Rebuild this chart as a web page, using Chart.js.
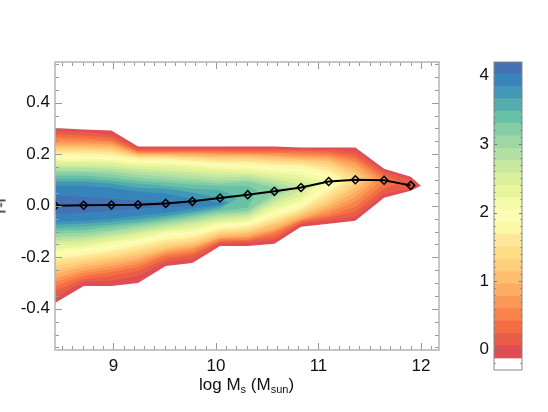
<!DOCTYPE html>
<html>
<head>
<meta charset="utf-8">
<script src="https://cdn.jsdelivr.net/npm/chart.js@4"></script>
<style>
body { margin: 0; background: #fff; overflow: hidden; }
#wrap { position: relative; width: 548px; height: 412px; overflow: hidden; font-family: "Liberation Sans", sans-serif; color: #111; }
canvas { position: absolute; top: 0; }
#xtitle { position: absolute; left: 199px; top: 375px; font-size: 17px; white-space: nowrap; }
#xtitle sub { font-size: 11px; line-height: 0; vertical-align: -3px; }
#ytitle { position: absolute; left: -7px; top: 196px; font-size: 17px; transform: rotate(-90deg); }
</style>
</head>
<body>
<div id="wrap">
  <canvas id="main" width="548" height="412" style="left:0"></canvas>
  <canvas id="bar" width="88" height="412" style="left:460px"></canvas>
  <div id="xtitle">log M<sub>s</sub> (M<sub>sun</sub>)</div>
  <div id="ytitle">r-i</div>
</div>
<script>
const logMass = [8.43, 8.71, 8.98, 9.24, 9.51, 9.77, 10.04, 10.31, 10.57, 10.83, 11.10, 11.36, 11.64, 11.90];
const meanColor = [0.000, 0.002, 0.003, 0.004, 0.009, 0.017, 0.030, 0.043, 0.056, 0.071, 0.094, 0.101, 0.099, 0.079];

// one colour per contour level, lowest level first
const levelColors = ['#e04d55','#e95c47','#f46d43','#f8844c','#fb9856','#fdad61','#fdbe6f','#fdcf7c','#fedd86','#fee79a','#fdf7a8','#fbfdb5',
                     '#f4faa8','#e9f59b','#dbf09b','#c7e89f','#b3e0a3','#9dd7a4','#84cea5','#67c2a5','#55aead','#4198b5','#3784bb','#4471b3'];
const barEdges = [-0.12,0.06,0.24,0.42,0.60,0.78,0.96,1.14,1.32,1.50,1.68,1.86,2.04,2.22,2.40,2.58,2.76,2.94,3.12,3.30,3.48,3.66,3.84,4.02,4.20];

// where each contour closes on the right
const tipX = [12.00,11.95,11.82,11.72,11.62,11.56,11.50,11.45,11.40,11.33,11.27,11.19,11.14,11.03,10.97,10.92,10.77,10.70,10.65,10.40,10.22,10.12,10.08,9.85];
const tipY = [.078,.078,.090,.097,.101,.101,.101,.101,.101,.101,.097,.097,.097,.094,.086,.074,.070,.062,.058,.058,.031,.012,.008,.004];

// contour edges read per mass column, level 0 first
const upper0 = [.302,.288,.277,.265,.253,.242,.234,.226,.218,.211,.203,.195,.183,.175,.168,.156,.148,.136,.129,.117,.105,.094,.078,.039];
const lower0 = [-.378,-.355,-.331,-.312,-.296,-.281,-.265,-.250,-.234,-.218,-.207,-.191,-.179,-.168,-.156,-.144,-.133,-.121,-.109,-.097,-.086,-.074,-.062,-.031];
const upper1 = [.296,.285,.273,.261,.250,.242,.234,.226,.218,.211,.203,.191,.183,.175,.168,.156,.148,.136,.129,.117,.105,.094,.078,.035];
const lower1 = [-.312,-.296,-.285,-.273,-.261,-.250,-.238,-.226,-.214,-.203,-.191,-.179,-.168,-.160,-.148,-.136,-.125,-.117,-.105,-.094,-.082,-.070,-.058,-.027];
const upper2 = [.292,.277,.265,.253,.246,.238,.230,.222,.214,.207,.199,.187,.179,.172,.164,.152,.144,.133,.121,.109,.097,.086,.070,.027];
const lower2 = [-.312,-.292,-.273,-.257,-.246,-.234,-.222,-.211,-.199,-.187,-.175,-.164,-.152,-.140,-.133,-.121,-.113,-.101,-.094,-.082,-.074,-.062,-.051,-.019];
const upper3 = [.230,.222,.214,.211,.207,.203,.199,.195,.191,.187,.183,.175,.168,.160,.152,.144,.133,.121,.109,.097,.086,.070,.055,.019];
const lower3 = [-.300,-.273,-.253,-.238,-.226,-.214,-.203,-.191,-.179,-.168,-.156,-.144,-.133,-.125,-.113,-.105,-.097,-.086,-.078,-.070,-.062,-.051,-.039,-.012];
const upper4 = [.230,.222,.214,.211,.207,.203,.199,.195,.191,.187,.183,.175,.168,.160,.148,.136,.125,.113,.101,.090,.078,.066,.047,.016];
const lower4 = [-.234,-.218,-.207,-.195,-.187,-.179,-.172,-.164,-.152,-.144,-.133,-.121,-.109,-.101,-.094,-.086,-.078,-.070,-.062,-.055,-.047,-.039,-.027,-.004];
const upper5 = [.230,.222,.214,.211,.207,.203,.195,.191,.187,.183,.175,.168,.160,.152,.140,.129,.117,.105,.094,.082,.066,.051,.027,.008];
const lower5 = [-.222,-.207,-.191,-.183,-.172,-.164,-.156,-.148,-.140,-.129,-.121,-.109,-.101,-.090,-.082,-.070,-.062,-.055,-.047,-.039,-.031,-.023,-.012,.000];
const upper6 = [.230,.222,.214,.211,.203,.199,.195,.187,.183,.175,.168,.160,.152,.144,.133,.121,.109,.097,.086,.078,.062,.031,.012];
const lower6 = [-.156,-.148,-.140,-.136,-.129,-.125,-.121,-.113,-.105,-.097,-.090,-.082,-.074,-.066,-.058,-.051,-.043,-.035,-.027,-.019,-.012,-.004,.004];
const upper7 = [.230,.222,.214,.207,.203,.199,.195,.187,.183,.175,.168,.156,.148,.140,.129,.121,.113,.101,.094,.078];
const lower7 = [-.156,-.144,-.136,-.133,-.125,-.121,-.113,-.105,-.097,-.090,-.082,-.074,-.066,-.058,-.051,-.043,-.035,-.027,-.019,-.008];
const upper8 = [.230,.222,.214,.207,.203,.195,.191,.183,.175,.168,.160,.148,.140,.129,.117,.105,.094,.082,.070];
const lower8 = [-.148,-.133,-.121,-.109,-.101,-.094,-.086,-.074,-.066,-.058,-.047,-.035,-.023,-.012,.000,.012,.023,.035,.047];
const upper9 = [.226,.218,.214,.207,.199,.191,.183,.179,.172,.164,.156,.144,.133,.117,.101,.082];
const lower9 = [-.082,-.070,-.066,-.058,-.055,-.051,-.043,-.035,-.027,-.019,-.012,.000,.012,.023,.039,.058];
const upper10 = [.226,.218,.211,.203,.195,.187,.179,.172,.160,.148,.136,.121,.105];
const lower10 = [-.070,-.058,-.047,-.039,-.027,-.016,-.004,.008,.023,.039,.055,.070,.086];
const upper11 = [.226,.211,.195,.183,.172,.160,.144,.129,.113];
const lower11 = [-.058,-.043,-.023,-.004,.016,.035,.055,.074,.090];
const upper12 = [.144,.133,.121,.109];
const lower12 = [.031,.047,.066,.086];
const upper13 = [.113,.101];
const lower13 = [.058,.066];

const upperCols = [upper0,upper1,upper2,upper3,upper4,upper5,upper6,upper7,upper8,upper9,upper10,upper11,upper12,upper13];
const lowerCols = [lower0,lower1,lower2,lower3,lower4,lower5,lower6,lower7,lower8,lower9,lower10,lower11,lower12,lower13];

const labelFont = {family: '"Liberation Sans", sans-serif', size: 17};

function edgePoints(cols, level){
    const pts = [];
    cols.forEach((col, c) => {
        if(col[level] !== undefined){
            pts.push({x: logMass[c], y: col[level]});
        }
    });
    pts.push({x: tipX[level], y: tipY[level]});
    return pts;
}

// first dataset is on top, so inner levels come first
const datasets = [{
    data: logMass.map((x, i) => ({x: x, y: meanColor[i]})),
    borderColor: '#000',
    borderWidth: 2,
    pointStyle: 'rectRot',
    pointRadius: 4,
    pointBorderColor: '#000',
    pointBorderWidth: 1.5,
    pointBackgroundColor: 'rgba(0,0,0,0)',
    fill: false
}];
for(let level = levelColors.length - 1; level >= 0; level--){
    datasets.push({
        data: edgePoints(upperCols, level),
        borderWidth: 0,
        pointRadius: 0,
        backgroundColor: levelColors[level],
        fill: {target: datasets.length + 1}
    });
    datasets.push({
        data: edgePoints(lowerCols, level),
        borderWidth: 0,
        pointRadius: 0,
        fill: false
    });
}

function isMajor(value, step){
    return Math.abs(value / step - Math.round(value / step)) < 1e-6;
}

// idl style box: ticks point inwards on all four sides
const boxPlugin = {
    id: 'box',
    afterDatasetsDraw(chart, args, opts){
        const ctx = chart.ctx;
        const a = chart.chartArea;
        ctx.save();
        ctx.strokeStyle = opts.tickColor;
        ctx.lineWidth = 1;
        ctx.beginPath();
        if(chart.scales.x.options.display){
            chart.scales.x.ticks.forEach(t => {
                const px = Math.round(chart.scales.x.getPixelForValue(t.value)) + 0.5;
                const len = isMajor(t.value, opts.xMajor) ? opts.majorLen : opts.minorLen;
                ctx.moveTo(px, a.bottom); ctx.lineTo(px, a.bottom - len);
                ctx.moveTo(px, a.top); ctx.lineTo(px, a.top + len);
            });
        }
        chart.scales.y.ticks.forEach(t => {
            const py = Math.round(chart.scales.y.getPixelForValue(t.value)) + 0.5;
            const len = isMajor(t.value, opts.yMajor) ? opts.majorLen : opts.minorLen;
            ctx.moveTo(a.left, py); ctx.lineTo(a.left + len, py);
            ctx.moveTo(a.right, py); ctx.lineTo(a.right - len, py);
        });
        ctx.stroke();
        ctx.strokeStyle = opts.frameColor;
        ctx.lineWidth = opts.frameWidth;
        ctx.strokeRect(a.left, a.top, a.right - a.left, a.bottom - a.top);
        ctx.restore();
    }
};

new Chart(document.getElementById('main'), {
    type: 'line',
    data: {datasets: datasets},
    plugins: [boxPlugin],
    options: {
        responsive: false,
        animation: false,
        events: [],
        layout: {padding: {top: 62, right: 109, left: 0, bottom: 0}},
        plugins: {
            legend: {display: false},
            tooltip: {enabled: false},
            box: {xMajor: 1, yMajor: 0.2, majorLen: 7, minorLen: 4, tickColor: '#999', frameColor: '#b5b5b5', frameWidth: 1.5}
        },
        scales: {
            x: {
                type: 'linear',
                min: 8.43,
                max: 12.176,
                grid: {display: false, drawTicks: false},
                border: {display: false},
                afterFit: s => { s.height = 62; },
                ticks: {
                    stepSize: 0.1,
                    includeBounds: false,
                    autoSkip: false,
                    maxRotation: 0,
                    padding: 6,
                    color: '#111',
                    font: labelFont,
                    callback: v => isMajor(v, 1) ? String(Math.round(v)) : ''
                }
            },
            y: {
                min: -0.56,
                max: 0.558,
                grid: {display: false, drawTicks: false},
                border: {display: false},
                afterFit: s => { s.width = 55; },
                ticks: {
                    stepSize: 0.05,
                    includeBounds: false,
                    autoSkip: false,
                    padding: 5,
                    color: '#111',
                    font: labelFont,
                    callback: v => isMajor(v, 0.2) ? v.toFixed(1) : ''
                }
            }
        }
    }
});

// colour bar
new Chart(document.getElementById('bar'), {
    type: 'bar',
    data: {
        labels: [''],
        datasets: levelColors.map((c, i) => ({
            data: [[barEdges[i], barEdges[i + 1]]],
            backgroundColor: c,
            grouped: false,
            barPercentage: 1,
            categoryPercentage: 1
        }))
    },
    plugins: [boxPlugin],
    options: {
        responsive: false,
        animation: false,
        events: [],
        layout: {padding: {top: 62, right: 26, left: 0, bottom: 42}},
        plugins: {
            legend: {display: false},
            tooltip: {enabled: false},
            box: {xMajor: 1, yMajor: 1, majorLen: 3, minorLen: 1.5, tickColor: '#777', frameColor: '#888', frameWidth: 1}
        },
        scales: {
            x: {display: false},
            y: {
                min: -0.295,
                max: 4.195,
                grid: {display: false, drawTicks: false},
                border: {display: false},
                afterFit: s => { s.width = 34; },
                ticks: {
                    stepSize: 0.1,
                    includeBounds: false,
                    autoSkip: false,
                    padding: 5,
                    color: '#111',
                    font: labelFont,
                    callback: v => isMajor(v, 1) ? String(Math.round(v)) : ''
                }
            }
        }
    }
});
</script>
</body>
</html>
